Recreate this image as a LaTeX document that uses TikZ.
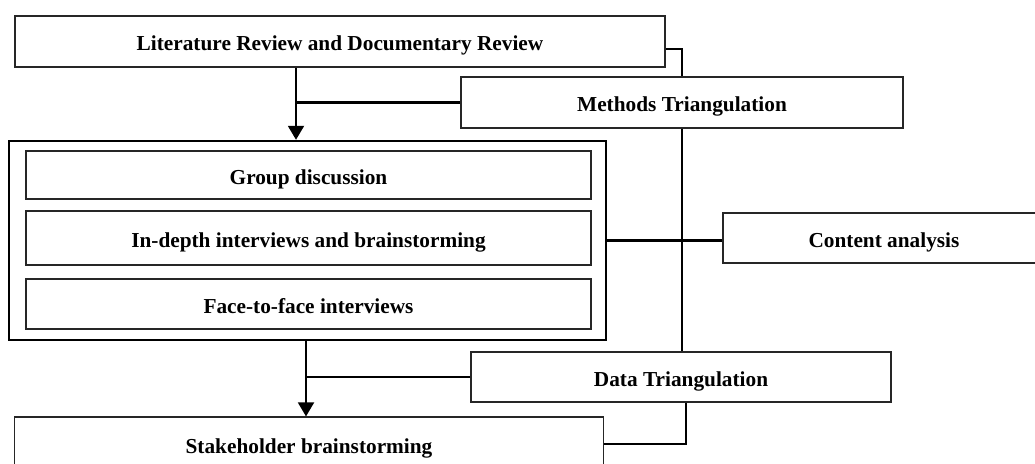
\documentclass[tikz,border=0pt]{standalone}
\usepackage{fontspec}
\setmainfont{Liberation Serif}
\usetikzlibrary{arrows.meta, positioning, calc}

\begin{document}
\begin{tikzpicture}[x=1pt, y=-1pt,
  stage/.style={
    rectangle, draw=black!85, line width=1.2pt, inner sep=0pt,
    text height=19pt, text depth=1pt,
    font=\fontsize{21.3}{25}\selectfont\bfseries, align=center,
  },
  conn/.style={line width=1.6pt},
  feed/.style={line width=2.2pt},
  arr/.style={line width=1.9pt, -{Triangle[length=14pt, width=16pt]}},
]
  \useasboundingbox (0,0) rectangle (1035,463);

  \node[stage, minimum width=650pt, minimum height=51pt] (lit) at (340,41.5)
    {Literature Review and Documentary Review};
  \node[stage, minimum width=442pt, minimum height=51pt] (meth) at (682,102.5)
    {Methods Triangulation};

  % grouped field methods
  \node[draw=black, line width=2.4pt, minimum width=597pt, minimum height=199pt] (field) at (307.5,240.5) {};
  \node[stage, minimum width=565pt, minimum height=48pt] (grp) at (308.5,175)
    {Group discussion};
  \node[stage, minimum width=565pt, minimum height=54pt] (indepth) at (308.5,238)
    {In-depth interviews and brainstorming};
  \node[stage, minimum width=565pt, minimum height=50pt] (face) at (308.5,304)
    {Face-to-face interviews};

  \node[stage, minimum width=322pt, minimum height=50pt] (content) at (884,238)
    {Content analysis};
  \node[stage, minimum width=420pt, minimum height=50pt] (data) at (681,377)
    {Data Triangulation};
  \node[stage, minimum width=589pt, minimum height=54pt] (stake) at (309,444)
    {Stakeholder brainstorming};

  \coordinate (ax1) at (296,0);
  \coordinate (ax2) at (306,0);

  % main flow
  \draw[arr] (lit.south -| ax1) -- (field.north -| ax1);
  \draw[arr] (field.south -| ax2) -- (stake.north -| ax2);

  % triangulation links
  \draw[conn] ([yshift=-7.5pt]lit.east) -| (meth.north);
  \draw[feed] (meth.west) -- (meth.west -| ax1);
  \draw[conn] (meth.south) -- (meth.south |- data.north);
  \draw[feed] (field.east) -- (field.east -| content.west);
  \draw[feed] (data.west) -- (data.west -| ax2);
  \draw[conn] ([xshift=5pt]data.south) |- (stake.east);
\end{tikzpicture}
\end{document}
